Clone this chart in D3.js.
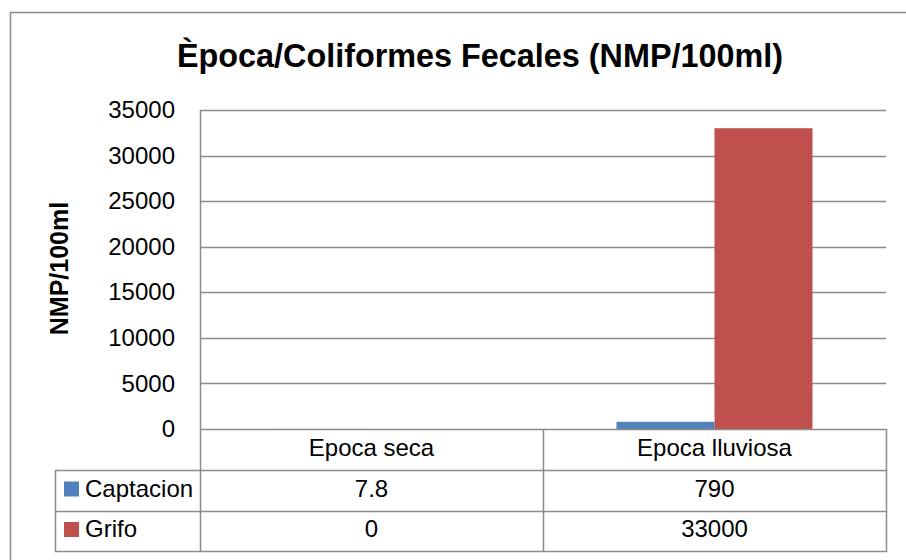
<!DOCTYPE html>
<html>
<head>
<meta charset="utf-8">
<script src="https://cdn.jsdelivr.net/npm/d3@7"></script>
<style>
  html, body { margin: 0; padding: 0; background: #fff; }
  svg { display: block; font-family: "Liberation Sans", Arial, sans-serif; }
</style>
</head>
<body>
<svg id="chart" width="906" height="560"></svg>
<script>
const title = "Època/Coliformes Fecales (NMP/100ml)";
const yAxisTitle = "NMP/100ml";
const categories = ["Epoca seca", "Epoca lluviosa"];
const seriesNames = ["Captacion", "Grifo"];
const captacion = [7.8, 790];
const grifo = [0, 33000];
const tableLabels = [["7.8", "790"], ["0", "33000"]];
const colors = ["#4F81BD", "#C0504D"];
const yTicks = [0, 5000, 10000, 15000, 20000, 25000, 30000, 35000];

const seriesValues = [captacion, grifo];
const svg = d3.select("#chart");
const gridColor = "#8a8a8a";

// outer border
svg.append("rect").attr("x", 10.5).attr("y", 12.5).attr("width", 1000).attr("height", 1000)
  .attr("fill", "none").attr("stroke", gridColor).attr("stroke-width", 1.5);

const plot = { left: 200, right: 886, top: 110, bottom: 429 };

const x = d3.scaleBand().domain(categories).range([plot.left, plot.right]);
const xs = d3.scaleBand().domain(seriesNames).range([0, x.bandwidth()]).paddingInner(0).paddingOuter(0.75);
const y = d3.scaleLinear().domain([0, 35000]).range([plot.bottom, plot.top]);

// title
svg.append("text").attr("x", 480).attr("y", 67).attr("text-anchor", "middle")
  .attr("font-size", 33).attr("font-weight", "bold").attr("fill", "#000")
  .attr("textLength", 606).attr("lengthAdjust", "spacingAndGlyphs")
  .text(title);

// gridlines
svg.append("g").selectAll("line").data(yTicks.filter(d => d > 0)).join("line")
  .attr("x1", plot.left).attr("x2", plot.right)
  .attr("y1", d => Math.round(y(d)) + 0.5).attr("y2", d => Math.round(y(d)) + 0.5)
  .attr("stroke", gridColor).attr("stroke-width", 1.5);

// y axis
const yAxis = d3.axisLeft(y).tickValues(yTicks).tickSize(0).tickPadding(25).tickFormat(d3.format("d"));
const gy = svg.append("g").attr("transform", `translate(${plot.left},0)`).call(yAxis);
gy.select(".domain").remove();
gy.selectAll("text").attr("font-size", 24).attr("font-family", "'Liberation Sans', Arial, sans-serif").attr("fill", "#000");
svg.append("line").attr("x1", plot.left + 0.5).attr("x2", plot.left + 0.5)
  .attr("y1", plot.top).attr("y2", plot.bottom).attr("stroke", gridColor).attr("stroke-width", 1.5);

// y axis title
svg.append("text").attr("transform", "translate(68,268.5) rotate(-90)")
  .attr("text-anchor", "middle").attr("font-size", 25).attr("font-weight", "bold").attr("fill", "#000")
  .text(yAxisTitle);

// bars
seriesNames.forEach((s, si) => {
  svg.append("g").selectAll("rect").data(categories).join("rect")
    .attr("x", c => x(c) + xs(s))
    .attr("width", xs.bandwidth())
    .attr("y", (c, i) => y(seriesValues[si][i]))
    .attr("height", (c, i) => y(0) - y(seriesValues[si][i]))
    .attr("fill", colors[si]);
});

// data table
const rowTop = [429, 470, 511];
const rowBottom = 551;
const legendLeft = 55;
const tg = svg.append("g").attr("stroke", gridColor).attr("stroke-width", 1.5).attr("fill", "none");
tg.append("line").attr("x1", plot.left).attr("x2", plot.right).attr("y1", rowTop[0] + 0.5).attr("y2", rowTop[0] + 0.5);
[rowTop[1], rowTop[2], rowBottom].forEach(yy => {
  tg.append("line").attr("x1", legendLeft).attr("x2", plot.right + 1).attr("y1", yy + 0.5).attr("y2", yy + 0.5);
});
const vxs = [plot.left, ...categories.map(c => x(c) + x.bandwidth())];
vxs.forEach(vx => {
  tg.append("line").attr("x1", vx + 0.5).attr("x2", vx + 0.5).attr("y1", rowTop[0]).attr("y2", rowBottom + 1);
});
tg.append("line").attr("x1", legendLeft + 0.5).attr("x2", legendLeft + 0.5).attr("y1", rowTop[1]).attr("y2", rowBottom + 1);

// header
svg.append("g").selectAll("text").data(categories).join("text")
  .attr("x", c => x(c) + x.bandwidth() / 2).attr("y", (rowTop[0] + rowTop[1]) / 2 - 2)
  .attr("dy", "0.35em").attr("text-anchor", "middle").attr("font-size", 24).attr("fill", "#000")
  .text(c => c);

// rows
const rowCenters = [(rowTop[1] + rowTop[2]) / 2 - 2, (rowTop[2] + rowBottom) / 2 - 2];
seriesNames.forEach((s, si) => {
  const cy = rowCenters[si];
  svg.append("rect").attr("x", 64).attr("y", cy - 7).attr("width", 15).attr("height", 15).attr("fill", colors[si]);
  svg.append("text").attr("x", 85).attr("y", cy).attr("dy", "0.35em")
    .attr("font-size", 24).attr("fill", "#000").text(s);
  svg.append("g").selectAll("text").data(categories).join("text")
    .attr("x", c => x(c) + x.bandwidth() / 2).attr("y", cy).attr("dy", "0.35em")
    .attr("text-anchor", "middle").attr("font-size", 24).attr("fill", "#000")
    .text((c, i) => tableLabels[si][i]);
});
</script>
</body>
</html>
